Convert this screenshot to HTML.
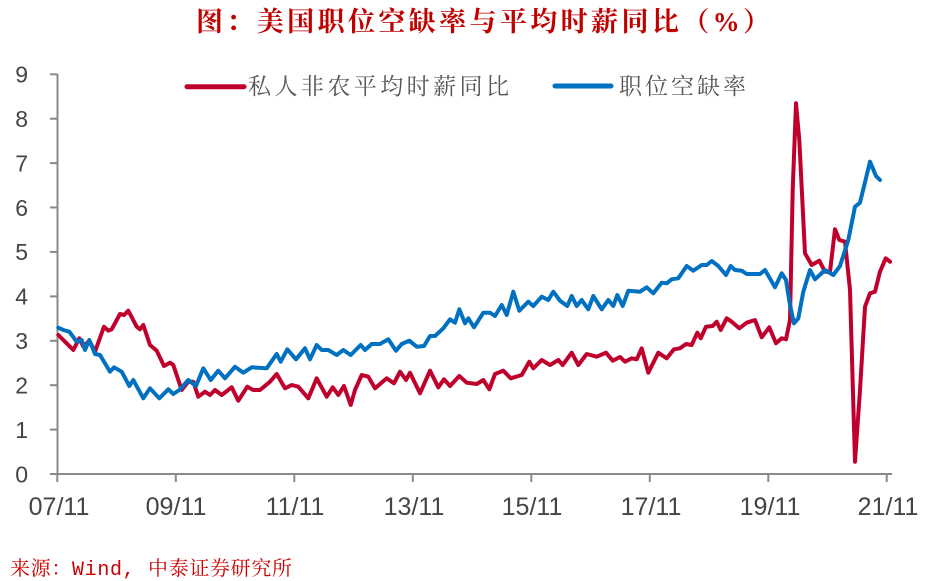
<!DOCTYPE html>
<html>
<head>
<meta charset="utf-8">
<style>
html,body{margin:0;padding:0;background:#fff;}
body{width:926px;height:581px;overflow:hidden;}
svg{display:block;}
</style>
</head>
<body>
<svg width="926" height="581" viewBox="0 0 926 581" xmlns="http://www.w3.org/2000/svg">
  <rect width="926" height="581" fill="#fff"/>
  <!-- Title -->
  <text x="196" y="31" font-family="'Liberation Serif','Noto Serif CJK SC',serif" font-weight="bold" font-size="27" fill="#C00000" textLength="574" lengthAdjust="spacing">图：美国职位空缺率与平均时薪同比（%）</text>

  <!-- Legend -->
  <line x1="187" y1="86.7" x2="244" y2="86.7" stroke="#C0002C" stroke-width="5" stroke-linecap="round"/>
  <text x="248" y="94" font-family="'Liberation Serif','Noto Serif CJK SC',serif" font-size="23" fill="#555" textLength="261" lengthAdjust="spacing">私人非农平均时薪同比</text>
  <line x1="555" y1="86" x2="611" y2="86" stroke="#0070C0" stroke-width="5" stroke-linecap="round"/>
  <text x="619" y="94" font-family="'Liberation Serif','Noto Serif CJK SC',serif" font-size="23" fill="#555" textLength="127" lengthAdjust="spacing">职位空缺率</text>

  <!-- Axes -->
  <g stroke="#898989" stroke-width="2" fill="none">
    <line x1="57.5" y1="74" x2="57.5" y2="474"/>
    <line x1="50" y1="474" x2="892" y2="474"/>
    <line x1="50" y1="74.3" x2="57.5" y2="74.3"/>
    <line x1="50" y1="118.7" x2="57.5" y2="118.7"/>
    <line x1="50" y1="163.1" x2="57.5" y2="163.1"/>
    <line x1="50" y1="207.5" x2="57.5" y2="207.5"/>
    <line x1="50" y1="251.9" x2="57.5" y2="251.9"/>
    <line x1="50" y1="296.4" x2="57.5" y2="296.4"/>
    <line x1="50" y1="340.8" x2="57.5" y2="340.8"/>
    <line x1="50" y1="385.2" x2="57.5" y2="385.2"/>
    <line x1="50" y1="429.6" x2="57.5" y2="429.6"/>
    <line x1="57.3" y1="474" x2="57.3" y2="482"/>
    <line x1="175.8" y1="474" x2="175.8" y2="482"/>
    <line x1="294.3" y1="474" x2="294.3" y2="482"/>
    <line x1="412.8" y1="474" x2="412.8" y2="482"/>
    <line x1="531.3" y1="474" x2="531.3" y2="482"/>
    <line x1="649.8" y1="474" x2="649.8" y2="482"/>
    <line x1="768.3" y1="474" x2="768.3" y2="482"/>
    <line x1="886.7" y1="474" x2="886.7" y2="482"/>
  </g>

  <!-- Y labels -->
  <g font-family="'Liberation Sans',sans-serif" font-size="23" fill="#444" text-anchor="end">
    <text x="28" y="82.5">9</text>
    <text x="28" y="127">8</text>
    <text x="28" y="171.4">7</text>
    <text x="28" y="215.8">6</text>
    <text x="28" y="260.2">5</text>
    <text x="28" y="304.7">4</text>
    <text x="28" y="349.1">3</text>
    <text x="28" y="393.5">2</text>
    <text x="28" y="437.9">1</text>
    <text x="28" y="482.5">0</text>
  </g>
  <!-- X labels -->
  <g font-family="'Liberation Sans',sans-serif" font-size="25" fill="#444" text-anchor="middle">
    <text x="59" y="515">07/11</text>
    <text x="176" y="515">09/11</text>
    <text x="295" y="515">11/11</text>
    <text x="414" y="515">13/11</text>
    <text x="532" y="515">15/11</text>
    <text x="651" y="515">17/11</text>
    <text x="770" y="515">19/11</text>
    <text x="888" y="515">21/11</text>
  </g>

  <!-- Red series -->
  <polyline fill="none" stroke="#C0002C" stroke-width="4" stroke-linejoin="round" stroke-linecap="round" points="58.3,335 65,341.7 73.3,350 79.3,338.3 83.3,346.7 89.3,340.7 95,351.7 104,326.7 108.3,330.7 111.7,329.3 120,314 124,315 128.3,310.7 136.7,326.7 140,329.3 143.3,325 150,345 156.7,350.7 164,366 170,362.7 173.3,365 181.7,390 188.3,381.7 193.3,381.7 198.3,396.7 205,391.7 210,395 215,390 221.7,395 231.7,387.3 238.3,400.7 247.3,386.7 253.3,390 260,390 270,381.7 276.7,374 285,388.3 291.7,385 298.3,386.7 308.3,398.3 316.7,378.3 326.7,396.7 332.7,387.3 338.3,395 344,386 350.7,405 355,390 361.7,375 368.3,376.7 375,388.3 386.7,378.3 394,383.3 400,371.7 406,380 410,372.7 420,393.3 430,370.7 438.3,387.3 444,379.3 450,386 459.3,376 466.7,382.7 476.7,384 483.3,380 489.3,389.3 495,374 503.3,370.7 510.7,378.3 521.7,375 529.3,361.7 533.3,368.3 541.7,360 550,365 558.3,360 562.7,365 571.7,352.7 578.3,365 586.7,354 596.7,356.7 606,352.7 612.7,360.7 620,357 625,361.7 631.7,358.3 636.7,359.3 641.7,348.3 648.3,372.7 658.3,352.7 666.7,358.3 674,349.3 680,348.3 686,344 691.7,345 697.3,332.7 700.7,338.3 706,326.7 712.7,326 716.7,321.7 720.7,330 726.7,318.3 731.7,321.7 739.3,328.3 746.7,322.7 755,320 761.7,337.3 769.3,327.3 776,343.3 781.7,338.3 786,339.3 790,320 792.7,190 796,103.3 799.3,140 805,253.3 811.7,265 819.3,260.7 825,271.7 830,271.7 835,229.3 839.3,240 845,241.7 850,290 855,461.7 860,390 865,306.7 870,293.3 875,291.7 880,271.7 885.7,258.3 890,261.7"/>

  <!-- Blue series -->
  <polyline fill="none" stroke="#0070C0" stroke-width="4" stroke-linejoin="round" stroke-linecap="round" points="58.3,327.7 63.3,330 69.3,331.7 76.7,341.7 81.7,340 85,350 89.3,340 95,354 100,355 110,371.7 114,367.3 121.7,371.7 129.3,386 133.3,380 143.3,398.3 150,388.3 159.3,398.3 168.3,389.3 173.3,394 179.3,390 188.3,380 196,386 203.3,368.3 210.7,380 218.3,370.7 225,378.3 235,366.7 243.3,372.7 251.7,367.3 266.7,368.3 276.7,354 280.7,361.7 287.3,349.3 296,359.3 305,348.3 310,359.3 316.7,345 321.7,350 328.3,350 336.7,355 343.3,350 350.7,355 360.7,345 365,350 371.7,344 380,344 388.3,339.3 396,350.7 401.7,344 409.3,340.7 416.7,346.7 424,346 430,336 435,336 443.3,328.3 450,319.3 455,322.7 459.3,309.3 465,323.3 468.3,318.3 474,327.3 483.3,312.7 490,312.7 495,316 501.7,305 506.7,315 513.3,291.7 519.3,310.7 528.3,301.7 533.3,306 541.7,296.7 548.3,300 553.3,291.7 560,300.7 567.3,306 571.7,296 576.7,306 581.7,300 588.3,309.3 593.3,296 601.7,309.3 608.3,300 613.3,306 617.3,295 622.7,306 628.3,290.7 640,291.7 646.7,287.3 653.3,293.3 661.7,282.7 666.7,283.3 671.7,279.3 678.3,278.3 686.7,266 693.3,270.7 701.7,265 706.7,265 711.7,261 718.3,266 726,275 730.7,266 735,270 741.7,270.7 746.7,274 760,274 765,270 775,287.3 781.7,273.3 786,280 790,305 794,323.3 798.3,318.3 803.3,291.7 810,270 815,279.3 825,270 833.3,275 840,266 848.3,240 855,206.7 860,202.7 870,161.7 876,176 880,180"/>

  <!-- Source -->
  <text x="10" y="575" font-family="'Liberation Mono','Noto Serif CJK SC',monospace" font-size="20" fill="#CC0000" textLength="282" lengthAdjust="spacing">来源：Wind, 中泰证券研究所</text>
</svg>
</body>
</html>
